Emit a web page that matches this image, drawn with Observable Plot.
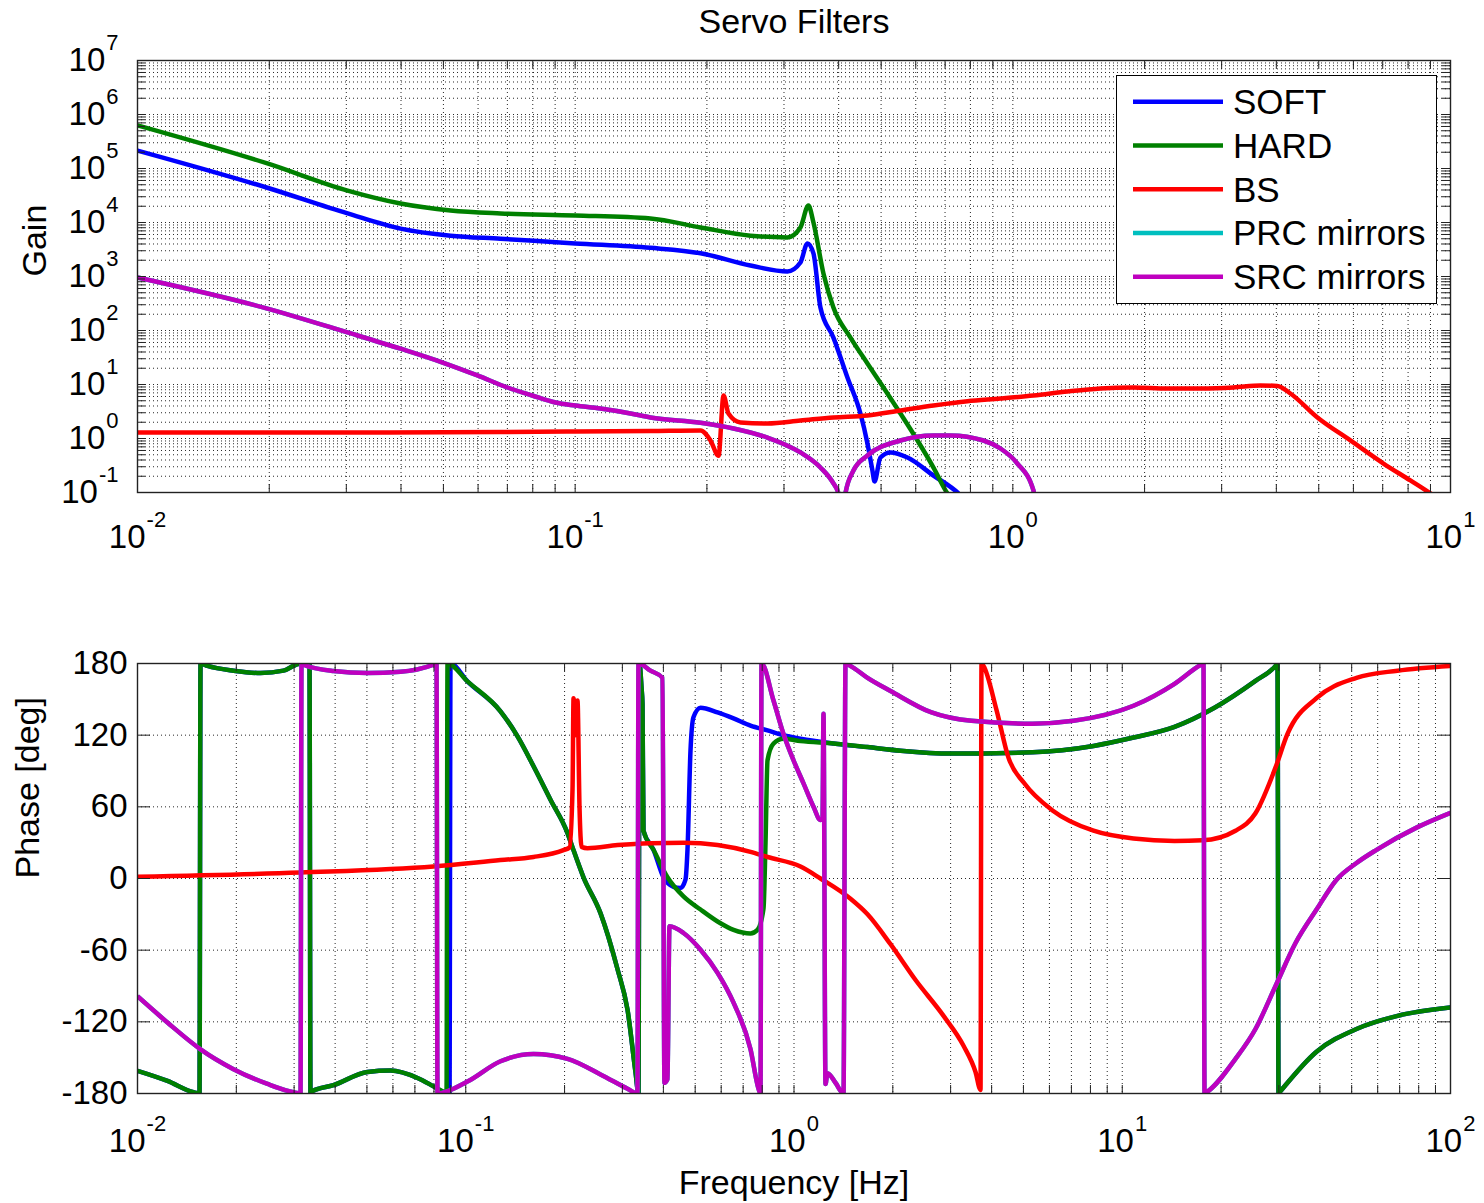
<!DOCTYPE html>
<html><head><meta charset="utf-8">
<script src="https://cdn.jsdelivr.net/npm/d3@7"></script>
<script src="https://cdn.jsdelivr.net/npm/@observablehq/plot@0.6"></script>
<style>
body{margin:0;background:#fff;}
#wrap{position:relative;width:1484px;height:1203px;font-family:"Liberation Sans",Arial,Helvetica,sans-serif;background:#fff;}
#top,#bottom{position:absolute;left:0;}
#top{top:0}
#bottom{top:600px}
#legend{position:absolute;left:1116px;top:75px;width:321px;height:229px;border:1.3px solid #000;background:#fff;box-sizing:border-box;}
#legend svg{position:absolute;left:0;top:0;}
</style></head><body>
<div id="wrap"><div id="top"></div><div id="bottom"></div><div id="legend"></div></div>
<script>
// ---------- series ----------
const seriesNames = ["SOFT", "HARD", "BS", "PRC mirrors", "SRC mirrors"];
const seriesColors = ["#0000ff", "#008000", "#ff0000", "#00bfbf", "#bf00bf"];

// ---------- tick labels ----------
const gainXExp = [-2, -1, 0, 1];
const gainYExp = [-1, 0, 1, 2, 3, 4, 5, 6, 7];
const phaseXExp = [-2, -1, 0, 1, 2];
const phaseYTicks = [-180, -120, -60, 0, 60, 120, 180];

// ---------- Gain (top) ----------
const softGainF = [0.01, 0.0198, 0.0302, 0.0399, 0.0519, 0.0675, 0.100, 0.1486, 0.1934, 0.2515, 0.3055, 0.3271, 0.3394, 0.3503, 0.3634, 0.3891, 0.4189, 0.4485, 0.4654, 0.4778, 0.483, 0.4983, 0.5252, 0.5744, 0.6587, 0.7512, 0.78];
const softGainV = [2.15e5, 4.4e4, 1.47e4, 7.7e3, 5.7e3, 5.0e3, 4.1e3, 3.4e3, 2.7e3, 1.6e3, 1.24e3, 1.82e3, 4.08e3, 2.67e3, 267, 74, 13.5, 2.9, 0.81, 0.255, 0.16, 0.445, 0.55, 0.445, 0.206, 0.096, 0.07];

const hardGainF = [0.01, 0.0198, 0.0302, 0.0399, 0.0519, 0.0675, 0.100, 0.1486, 0.1934, 0.2515, 0.3055, 0.3271, 0.3412, 0.3503, 0.3692, 0.3891, 0.4256, 0.4654, 0.5063, 0.5536, 0.6055, 0.6587, 0.7089, 0.73];
const hardGainV = [6.3e5, 1.24e5, 3.9e4, 2.25e4, 1.67e4, 1.47e4, 1.35e4, 1.19e4, 8.1e3, 5.7e3, 5.3e3, 8.1e3, 2.06e4, 1.0e4, 1.14e3, 267, 74, 24.5, 8.8, 2.9, 0.92, 0.29, 0.096, 0.07];

const bsGainF = [0.01, 0.0302, 0.0675, 0.100, 0.1486, 0.1934, 0.2038, 0.2126, 0.2183, 0.2240, 0.2386, 0.2750, 0.3271, 0.3891, 0.4654, 0.5536, 0.6587, 0.7876, 0.9369, 1.1145, 1.333, 1.585, 1.886, 2.255, 2.683, 3.191, 3.679, 4.022, 4.307, 4.965, 5.906, 7.027, 8.097, 8.999, 9.5];
const bsGainV = [1.29, 1.29, 1.32, 1.35, 1.38, 1.41, 0.92, 0.48, 6.26, 2.9, 1.98, 1.9, 2.15, 2.45, 2.67, 3.3, 4.08, 4.9, 5.5, 6.26, 7.41, 8.43, 8.8, 8.43, 8.43, 8.8, 9.6, 9.4, 6.81, 2.45, 0.92, 0.344, 0.167, 0.096, 0.07];

const srcGainF = [0.01, 0.0198, 0.0302, 0.0399, 0.0498, 0.0598, 0.0700, 0.0798, 0.0902, 0.100, 0.1142, 0.1338, 0.1486, 0.1934, 0.2300, 0.2750, 0.3271, 0.3634, 0.3891, 0.3995, 0.404, 0.410, 0.4145, 0.4323, 0.4654, 0.5536, 0.6587, 0.7201, 0.8567, 0.9369, 1.0245, 1.1145, 1.125];
const srcGainV = [958, 255, 92, 46, 25.5, 14.7, 8.8, 6.26, 4.64, 4.08, 3.59, 2.91, 2.45, 1.95, 1.53, 1.04, 0.551, 0.29, 0.147, 0.096, 0.03, 0.03, 0.096, 0.255, 0.484, 0.918, 1.14, 1.14, 0.918, 0.653, 0.344, 0.109, 0.05];
const prcGainF = srcGainF;   // PRC curve lies under the SRC curve
const prcGainV = srcGainV;

// ---------- Phase (bottom) ----------
const hardPhaseF = [0.01, 0.01234, 0.01481, 0.01545, 0.01556, 0.01634, 0.01961, 0.02370, 0.02785, 0.02988, 0.03094, 0.03342, 0.03365, 0.03413, 0.03954, 0.05018, 0.05899, 0.07129, 0.07975, 0.08677, 0.08738, 0.08799, 0.1012, 0.1276, 0.1438, 0.1609, 0.1812, 0.2042, 0.2115, 0.2284, 0.2573, 0.2900, 0.3111, 0.3289, 0.3359, 0.3383, 0.3431, 0.3455, 0.3479, 0.3733, 0.4116, 0.4606, 0.5191, 0.5850, 0.6543, 0.7371, 0.7742, 0.8075, 0.8189, 0.8305, 0.8660, 0.9290, 1.0467, 1.3190, 1.6749, 2.111, 3.018, 5.329, 8.174, 10.82, 14.43, 19.10, 25.46, 29.31, 29.72, 29.93, 30.14, 39.07, 51.72, 68.96, 100];
const hardPhaseV = [-161, -169.5, -179, -180, 180, 178, 174, 172, 174, 178, 179.5, 179.5, -180, -178, -173, -162, -160.8, -167, -174, -179.5, -180, 180, 165, 140, 119, 94, 66, 38, 26, 1, -29, -76, -110, -162, -180, 180, 160, 146, 40, 24, 1, -15, -26, -36, -43, -46, -43, -25, 30, 99, 113, 117, 115, 113, 110, 107, 104.6, 105.7, 111, 118, 127, 143, 165.5, 178, 180, -180, -179, -145, -126, -115, -108];

const softPhaseF = [0.01, 0.01234, 0.01481, 0.01545, 0.01556, 0.01634, 0.01961, 0.02370, 0.02785, 0.02988, 0.03094, 0.03342, 0.03365, 0.03413, 0.03954, 0.05018, 0.05899, 0.07129, 0.07975, 0.08677, 0.08924, 0.08986, 0.1012, 0.1276, 0.1438, 0.1609, 0.1812, 0.2042, 0.2115, 0.2284, 0.2573, 0.2900, 0.3111, 0.3289, 0.3359, 0.3383, 0.3431, 0.3455, 0.3479, 0.3733, 0.4003, 0.4294, 0.4510, 0.4671, 0.4737, 0.4838, 0.4940, 0.5191, 0.5850, 0.6543, 0.7371, 0.8305, 0.9290, 1.0467, 1.3190, 1.6749, 2.111, 3.018, 5.329, 8.174, 10.82, 14.43, 19.10, 25.46, 29.31, 29.72, 29.93, 30.14, 39.07, 51.72, 68.96, 100];
const softPhaseV = [-161, -169.5, -179, -180, 180, 178, 174, 172, 174, 178, 179.5, 179.5, -180, -178, -173, -162, -160.8, -167, -174, -179.5, -180, 180, 165, 140, 119, 94, 66, 38, 26, 1, -29, -76, -110, -162, -180, 180, 160, 146, 40, 24, 1, -7, -8, -1, 24, 107, 135, 143, 139, 134, 128, 124, 120, 117, 113, 110, 107, 104.6, 105.7, 111, 118, 127, 143, 165.5, 178, 180, -180, -179, -145, -126, -115, -108];

const bsPhaseF = [0.01, 0.03138, 0.07975, 0.1276, 0.1609, 0.1985, 0.2071, 0.2115, 0.2130, 0.2160, 0.2190, 0.2221, 0.2253, 0.2349, 0.2900, 0.3654, 0.4606, 0.5850, 0.7371, 0.8305, 1.0467, 1.2041, 1.4866, 1.6749, 1.9679, 2.346, 2.855, 3.284, 3.573, 3.700, 3.726, 3.779, 4.140, 4.504, 5.038, 6.132, 8.174, 10.82, 14.43, 17.56, 22.13, 25.46, 29.31, 31.87, 39.07, 51.72, 68.96, 100];
const bsPhaseV = [1.5, 5, 10, 15.4, 18, 23.8, 26, 75, 151, 120, 149, 60, 26.5, 25.4, 28, 29.6, 30, 28, 22.3, 18, 10, 0, -17, -30, -55, -85, -115, -140, -162, -177, 180, 178, 141, 101, 79.5, 57, 40, 33.5, 31.5, 32, 40, 54.6, 93, 121, 151, 168, 174, 178];

const srcPhaseF = [0.01, 0.01234, 0.01556, 0.01961, 0.02489, 0.02988, 0.03138, 0.03160, 0.03205, 0.03954, 0.05018, 0.06327, 0.07975, 0.08145, 0.08202, 0.1012, 0.1276, 0.1609, 0.2042, 0.2573, 0.3111, 0.3335, 0.3359, 0.3654, 0.3975, 0.4031, 0.4116, 0.4175, 0.4606, 0.5191, 0.5850, 0.6543, 0.7371, 0.7796, 0.7906, 0.7962, 0.8660, 0.9290, 0.9965, 1.0689, 1.1466, 1.2041, 1.2212, 1.2299, 1.2473, 1.2649, 1.3377, 1.4152, 1.4352, 1.4866, 1.6749, 1.9679, 2.624, 3.473, 5.329, 7.106, 10.82, 14.43, 17.32, 17.68, 17.81, 18.06, 22.13, 25.46, 29.31, 33.72, 39.07, 44.96, 51.72, 59.51, 79.33, 100];
const srcPhaseV = [-98.6, -120.6, -143, -159.6, -172, -179, -180, 180, 179, 173.7, 172, 173, 179, 180, -180, -170, -153, -147, -151, -164, -176, -180, 180, 174, 168, -171, -168, -40, -45.6, -59.6, -79, -104, -143, -176, -180, 180, 149, 121, 99, 79.6, 60, 49, 50, 138, -172, -163, -171, -180, 180, 178, 168, 157, 139, 132, 129.6, 132, 144.6, 163, 178.7, 180, -180, -179, -151, -126, -90, -54, -26, -1, 13, 24, 43, 55];
const prcPhaseF = srcPhaseF;  // PRC curve lies under the SRC curve
const prcPhaseV = srcPhaseV;

// ---------- helpers ----------
const FONT = '"Liberation Sans", Arial, Helvetica, sans-serif';
const pts = (F, V) => F.map((f, i) => ({f, v: V[i]}));
function logGrid(lo, hi) { const out = []; for (let e = lo; e < hi; e++) for (let k = 1; k < 10; k++) out.push(+(k * Math.pow(10, e)).toPrecision(6)); out.push(Math.pow(10, hi)); return out; }
const inside = (dom) => (d) => d > dom[0] * 1.0001 && d < dom[1] * 0.9999;
const sup = (e) => "10^" + e;
function supers(svg) {
  d3.select(svg).selectAll("text").each(function () {
    const m = /^10\^(-?\d+)$/.exec(this.textContent);
    if (!m) return;
    const s = d3.select(this);
    s.text(null);
    s.append("tspan").text("10");
    s.append("tspan").attr("dy", -21).attr("dx", 1).attr("font-size", 22).text(m[1]);
  });
}
const gridStyle = {stroke: "#000", strokeWidth: 1, strokeDasharray: "1,3", strokeOpacity: 0.85};
const lineStyle = (c) => ({x: "f", y: "v", stroke: c, strokeWidth: 4.5, clip: true, curve: "monotone-x", strokeLinejoin: "round", strokeLinecap: "butt"});

// ---------- top: Gain ----------
const gxDom = [0.01, 10], gyDom = [0.1, 1e7];
const gIH = 432, gIW = 1313;
const gxAll = logGrid(-2, 1), gyAll = logGrid(-1, 7);
const gainSeries = [pts(softGainF, softGainV), pts(hardGainF, hardGainV), pts(bsGainF, bsGainV), pts(prcGainF, prcGainV), pts(srcGainF, srcGainV)];

const topPlot = Plot.plot({
  width: 1484, height: 560,
  marginLeft: 137, marginRight: 34, marginTop: 60, marginBottom: 68,
  x: {type: "log", domain: gxDom},
  y: {type: "log", domain: gyDom},
  style: {fontFamily: FONT, fontSize: "33px", color: "#000", background: "#fff", overflow: "visible"},
  marks: [
    Plot.ruleX(gxAll.filter(inside(gxDom)), gridStyle),
    Plot.ruleY(gyAll.filter(inside(gyDom)), gridStyle),
    ...gainSeries.map((s, i) => Plot.line(s, lineStyle(seriesColors[i]))),
    Plot.tickX(gxAll, {x: d => d, insetTop: gIH - 8, stroke: "#222"}),
    Plot.tickX(gxAll, {x: d => d, insetBottom: gIH - 8, stroke: "#222"}),
    Plot.tickY(gyAll, {y: d => d, insetRight: gIW - 8, stroke: "#222"}),
    Plot.tickY(gyAll, {y: d => d, insetLeft: gIW - 8, stroke: "#222"}),
    Plot.frame({stroke: "#222", strokeWidth: 1.4}),
    Plot.axisX({ticks: gainXExp.map(e => Math.pow(10, e)), tickSize: 0, tickPadding: 32, tickFormat: d => sup(Math.round(Math.log10(d))), fontSize: 33, label: null}),
    Plot.axisY({ticks: gainYExp.map(e => Math.pow(10, e)), tickSize: 0, tickPadding: 19, tickFormat: d => sup(Math.round(Math.log10(d))), fontSize: 33, label: null}),
    Plot.text(["Gain"], {frameAnchor: "left", dx: -102, rotate: -90, fontSize: 34, fill: "#000", lineAnchor: "middle"}),
    Plot.text(["Servo Filters"], {frameAnchor: "top", dy: -38, fontSize: 34, fill: "#000", lineAnchor: "middle"})
  ]
});
supers(topPlot);
document.getElementById("top").appendChild(topPlot);

// ---------- bottom: Phase ----------
const pxDom = [0.01, 100], pyDom = [-180, 180];
const pIH = 430, pIW = 1313;
const pxAll = logGrid(-2, 2);
const phaseSeries = [pts(softPhaseF, softPhaseV), pts(hardPhaseF, hardPhaseV), pts(bsPhaseF, bsPhaseV), pts(prcPhaseF, prcPhaseV), pts(srcPhaseF, srcPhaseV)];

const botPlot = Plot.plot({
  width: 1484, height: 603,
  marginLeft: 137, marginRight: 34, marginTop: 63, marginBottom: 110,
  x: {type: "log", domain: pxDom},
  y: {type: "linear", domain: pyDom},
  style: {fontFamily: FONT, fontSize: "33px", color: "#000", background: "#fff", overflow: "visible"},
  marks: [
    Plot.ruleX(pxAll.filter(inside(pxDom)), gridStyle),
    Plot.ruleY(phaseYTicks.filter(d => d > -180 && d < 180), gridStyle),
    ...phaseSeries.map((s, i) => Plot.line(s, lineStyle(seriesColors[i]))),
    Plot.tickX(pxAll, {x: d => d, insetTop: pIH - 8, stroke: "#222"}),
    Plot.tickX(pxAll, {x: d => d, insetBottom: pIH - 8, stroke: "#222"}),
    Plot.tickY(phaseYTicks, {y: d => d, insetRight: pIW - 13, stroke: "#222"}),
    Plot.tickY(phaseYTicks, {y: d => d, insetLeft: pIW - 13, stroke: "#222"}),
    Plot.frame({stroke: "#222", strokeWidth: 1.4}),
    Plot.axisX({ticks: phaseXExp.map(e => Math.pow(10, e)), tickSize: 0, tickPadding: 35, tickFormat: d => sup(Math.round(Math.log10(d))), fontSize: 33, label: null}),
    Plot.axisY({ticks: phaseYTicks, tickSize: 0, tickPadding: 10, tickFormat: d => String(d), fontSize: 33, label: null}),
    Plot.text(["Phase [deg]"], {frameAnchor: "left", dx: -109, rotate: -90, fontSize: 34, fill: "#000", lineAnchor: "middle"}),
    Plot.text(["Frequency [Hz]"], {frameAnchor: "bottom", dy: 90, fontSize: 34, fill: "#000", lineAnchor: "middle"})
  ]
});
supers(botPlot);
document.getElementById("bottom").appendChild(botPlot);

// ---------- legend ----------
const lg = d3.select("#legend").append("svg").attr("width", 319).attr("height", 227);
seriesNames.forEach((name, i) => {
  const cy = 25.7 + i * 43.75;
  lg.append("line").attr("x1", 16).attr("x2", 106).attr("y1", cy).attr("y2", cy)
    .attr("stroke", seriesColors[i]).attr("stroke-width", 4.5);
  lg.append("text").attr("x", 116).attr("y", cy + 12.5).attr("font-size", 35)
    .attr("font-family", FONT).attr("fill", "#000").text(name);
});
</script></body></html>
